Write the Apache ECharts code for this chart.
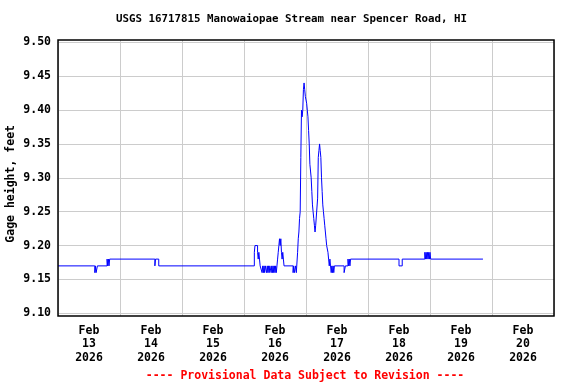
<!DOCTYPE html>
<html>
<head>
<meta charset="utf-8">
<script src="https://cdn.jsdelivr.net/npm/echarts@6/dist/echarts.min.js"></script>
<style>
html,body{margin:0;padding:0;background:#fff;}
#chart{width:576px;height:384px;}
</style>
</head>
<body>
<div id="chart"></div>
<script>
const titleText = 'USGS 16717815 Manowaiopae Stream near Spencer Road, HI';
const noteText = '---- Provisional Data Subject to Revision ----';
const yAxisName = 'Gage height, feet';
const dayLabels = ['Feb\n13\n2026','Feb\n14\n2026','Feb\n15\n2026','Feb\n16\n2026','Feb\n17\n2026','Feb\n18\n2026','Feb\n19\n2026','Feb\n20\n2026'];
const xMin = '2026-02-13 00:00';
const xMax = '2026-02-21 00:00';
const yMin = 9.10, yMax = 9.50, yStep = 0.05;

// change points of gage height (value holds until next time)
const gageTimes = [
'2026-02-13 00:00','2026-02-13 14:15','2026-02-13 14:30','2026-02-13 14:45','2026-02-13 15:15',
'2026-02-13 19:00','2026-02-13 19:15','2026-02-13 19:30','2026-02-13 19:45','2026-02-13 20:00',
'2026-02-14 13:30','2026-02-14 13:45','2026-02-14 15:00',
'2026-02-16 04:00','2026-02-16 04:15','2026-02-16 05:15','2026-02-16 05:30','2026-02-16 05:45','2026-02-16 06:00','2026-02-16 06:15',
'2026-02-16 07:00','2026-02-16 07:15','2026-02-16 07:30','2026-02-16 07:45','2026-02-16 08:00','2026-02-16 08:15',
'2026-02-16 08:45','2026-02-16 09:00','2026-02-16 09:15','2026-02-16 09:30','2026-02-16 09:45','2026-02-16 10:00',
'2026-02-16 10:30','2026-02-16 10:45','2026-02-16 11:00','2026-02-16 11:15','2026-02-16 11:30','2026-02-16 11:45',
'2026-02-16 12:00','2026-02-16 12:15','2026-02-16 12:30','2026-02-16 12:45',
'2026-02-16 13:00','2026-02-16 13:15','2026-02-16 13:30','2026-02-16 13:45','2026-02-16 14:00','2026-02-16 14:15',
'2026-02-16 14:30','2026-02-16 14:45','2026-02-16 15:00','2026-02-16 15:15','2026-02-16 15:30',
'2026-02-16 19:00','2026-02-16 19:15','2026-02-16 19:30','2026-02-16 20:00','2026-02-16 20:15',
'2026-02-16 20:45','2026-02-16 21:00','2026-02-16 21:15','2026-02-16 21:30','2026-02-16 21:45',
'2026-02-16 22:00','2026-02-16 22:15','2026-02-16 22:30','2026-02-16 22:45','2026-02-16 23:00',
'2026-02-16 23:15','2026-02-16 23:30','2026-02-16 23:45',
'2026-02-17 00:15','2026-02-17 00:30','2026-02-17 00:45','2026-02-17 01:00','2026-02-17 01:15','2026-02-17 01:30',
'2026-02-17 01:45','2026-02-17 02:00','2026-02-17 02:15','2026-02-17 02:30','2026-02-17 02:45','2026-02-17 03:00',
'2026-02-17 03:15','2026-02-17 03:30','2026-02-17 03:45','2026-02-17 04:30','2026-02-17 04:45','2026-02-17 05:00',
'2026-02-17 05:15','2026-02-17 05:30','2026-02-17 05:45','2026-02-17 06:00','2026-02-17 06:15','2026-02-17 06:30',
'2026-02-17 06:45','2026-02-17 07:00','2026-02-17 07:15','2026-02-17 07:30','2026-02-17 07:45','2026-02-17 08:00',
'2026-02-17 08:30','2026-02-17 08:45','2026-02-17 09:00','2026-02-17 09:15','2026-02-17 09:30','2026-02-17 09:45',
'2026-02-17 10:00','2026-02-17 10:15','2026-02-17 10:30','2026-02-17 10:45','2026-02-17 11:00',
'2026-02-17 14:45','2026-02-17 15:15',
'2026-02-17 16:15','2026-02-17 16:30','2026-02-17 16:45','2026-02-17 17:00','2026-02-17 17:15',
'2026-02-18 12:00','2026-02-18 13:15',
'2026-02-18 22:00','2026-02-18 22:15','2026-02-18 22:30','2026-02-18 22:45','2026-02-18 23:00','2026-02-18 23:15',
'2026-02-18 23:30','2026-02-18 23:45','2026-02-19 00:00','2026-02-19 00:15',
'2026-02-19 20:30'
];
const gageValues = [
9.17,9.16,9.17,9.16,9.17,
9.18,9.17,9.18,9.17,9.18,
9.17,9.18,9.17,
9.19,9.20,9.19,9.18,9.19,9.18,9.17,
9.16,9.17,9.16,9.17,9.16,9.17,
9.16,9.17,9.16,9.17,9.16,9.17,
9.16,9.17,9.16,9.17,9.16,9.17,
9.16,9.17,9.16,9.17,
9.18,9.19,9.20,9.21,9.20,9.21,
9.19,9.18,9.19,9.18,9.17,
9.16,9.17,9.16,9.17,9.16,
9.19,9.21,9.22,9.24,9.25,
9.33,9.40,9.39,9.40,9.43,
9.44,9.43,9.42,
9.41,9.40,9.39,9.37,9.35,9.32,
9.31,9.30,9.28,9.26,9.25,9.24,
9.23,9.22,9.23,9.27,9.33,9.34,
9.35,9.34,9.33,9.30,9.28,9.26,
9.25,9.24,9.23,9.22,9.21,9.20,
9.19,9.18,9.17,9.18,9.17,9.16,
9.17,9.16,9.17,9.16,9.17,
9.16,9.17,
9.18,9.17,9.18,9.17,9.18,
9.17,9.18,
9.19,9.18,9.19,9.18,9.19,9.18,
9.19,9.18,9.19,9.18,
9.18
];

const FONT = 'DejaVu Sans Mono';
const chart = echarts.init(document.getElementById('chart'), null, {renderer:'canvas'});
const seriesData = gageTimes.map((t, i) => [t, gageValues[i]]);

chart.setOption({
  animation: false,
  backgroundColor: '#ffffff',
  title: [
    {text: titleText, left: 291.5, top: 14, textAlign: 'center', padding: 0,
     textStyle: {fontFamily: FONT, fontWeight: 'bold', fontSize: 10.8, color: '#000'}},
    {text: noteText, left: 305, top: 370, textAlign: 'center', padding: 0,
     textStyle: {fontFamily: FONT, fontWeight: 'bold', fontSize: 11.5, color: '#ff0000'}}
  ],
  graphic: [{
    type: 'text', left: 5, top: 125, rotation: Math.PI / 2,
    style: {text: yAxisName, fontFamily: FONT, fontWeight: 'bold', fontSize: 11.5, fill: '#000'}
  }],
  grid: [
    {left: 58, right: 22, top: 40, bottom: 68, show: true, borderColor: '#000', borderWidth: 1.5, backgroundColor: 'transparent', z: 3},
    {left: 58, right: 22, top: 42.3, bottom: 70.7, show: false}
  ],
  xAxis: [
    {type: 'time', gridIndex: 0, min: xMin, max: xMax, minInterval: 86400000, maxInterval: 86400000,
     axisLine: {show: false}, axisTick: {show: false}, axisLabel: {show: false},
     splitLine: {show: true, lineStyle: {color: '#cccccc', width: 1}}},
    {type: 'category', gridIndex: 0, data: dayLabels, boundaryGap: true, position: 'bottom',
     axisLine: {show: false}, axisTick: {show: false}, splitLine: {show: false},
     axisLabel: {interval: 0, margin: 8, fontFamily: FONT, fontWeight: 'bold', fontSize: 11.5, color: '#000', lineHeight: 13.5}},
    {type: 'time', gridIndex: 1, min: xMin, max: xMax, show: false}
  ],
  yAxis: [
    {type: 'value', gridIndex: 0, min: 0, max: 1, show: false},
    {type: 'value', gridIndex: 1, min: yMin, max: yMax, interval: yStep,
     axisLine: {show: false}, axisTick: {show: false},
     axisLabel: {margin: 7, formatter: v => v.toFixed(2), fontFamily: FONT, fontWeight: 'bold', fontSize: 11.5, color: '#000'},
     splitLine: {show: true, lineStyle: {color: '#cccccc', width: 1}}}
  ],
  series: [{
    type: 'line', xAxisIndex: 2, yAxisIndex: 1, step: 'end', showSymbol: false, symbol: 'none',
    lineStyle: {color: '#0000ff', width: 1}, data: seriesData, z: 2
  }]
});
</script>
</body>
</html>
